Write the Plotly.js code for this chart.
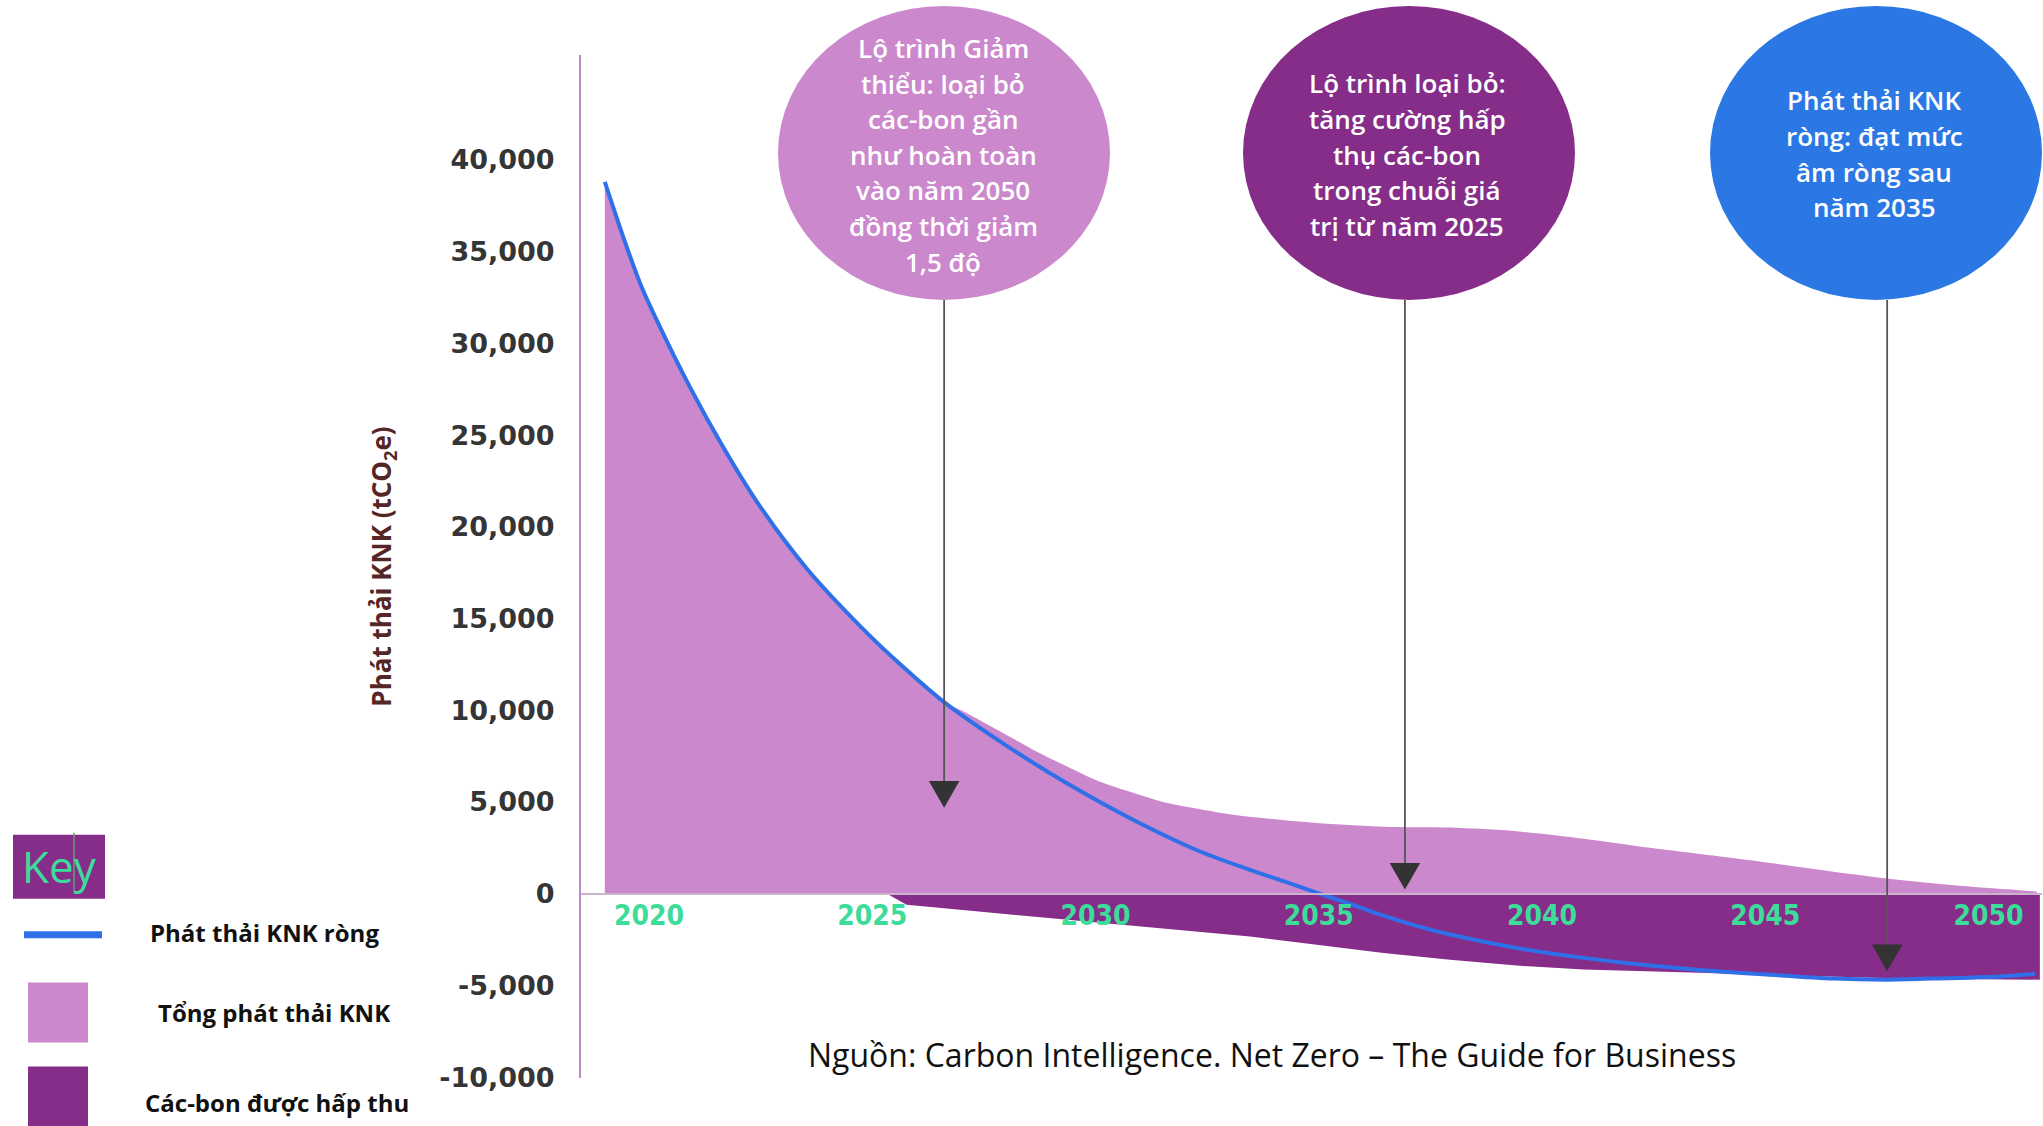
<!DOCTYPE html>
<html>
<head>
<meta charset="utf-8">
<script src="https://cdn.plot.ly/plotly-3.0.1.min.js"></script>
<style>
html,body{margin:0;padding:0;background:#ffffff;}
#chart{width:2043px;height:1126px;}
</style>
</head>
<body>
<div id="chart"></div>
<script>
// ---------- data ----------
const netYears = [2019.01, 2019.42, 2019.80, 2020.17, 2020.92, 2021.66, 2022.41, 2023.56, 2024.88, 2025.62, 2026.61, 2027.86, 2029.35, 2030.84, 2032.34, 2033.46, 2034.21, 2034.95, 2035.70, 2036.45, 2037.19, 2037.94, 2039.43, 2040.93, 2042.42, 2043.91, 2045.03, 2046.52, 2047.72, 2048.76, 2050.26, 2051.04];
const netValues = [38800, 35820, 33280, 31280, 27600, 24350, 21390, 17650, 14220, 12520, 10440, 8300, 6030, 4030, 2300, 1300, 680, 60, -560, -1200, -1760, -2230, -2960, -3500, -3920, -4230, -4410, -4630, -4690, -4630, -4510, -4380];

const totalYears = [2019.01, 2019.42, 2019.80, 2020.17, 2020.92, 2021.66, 2022.41, 2023.56, 2024.88, 2025.62, 2026.61, 2027.11, 2027.86, 2028.60, 2029.35, 2030.10, 2030.84, 2031.59, 2032.34, 2033.08, 2033.83, 2034.95, 2036.45, 2037.94, 2039.43, 2040.93, 2042.42, 2043.91, 2045.03, 2046.52, 2048.02, 2049.51, 2051.08];
const totalValues = [38800, 35820, 33280, 31280, 27600, 24350, 21390, 17650, 14220, 12520, 10460, 9850, 8850, 7850, 6950, 6100, 5500, 4950, 4600, 4300, 4100, 3850, 3650, 3600, 3400, 3000, 2500, 2050, 1700, 1200, 750, 400, 120];

const absorbedYears = [2025.33, 2025.77, 2027.50, 2029.35, 2031.40, 2033.46, 2035.00, 2036.45, 2037.94, 2039.43, 2040.93, 2042.42, 2043.91, 2045.78, 2048.02, 2051.15];
const absorbedValues = [0, -600, -1000, -1420, -1870, -2330, -2800, -3230, -3600, -3920, -4140, -4230, -4320, -4470, -4630, -4690];

const yTickVals = [-10000, -5000, 0, 5000, 10000, 15000, 20000, 25000, 30000, 35000, 40000];
const yTickText = ["-10,000", "-5,000", "0", "5,000", "10,000", "15,000", "20,000", "25,000", "30,000", "35,000", "40,000"];
const xTickVals = [2020, 2025, 2030, 2035, 2040, 2045, 2050];
const xTickText = ["2020", "2025", "2030", "2035", "2040", "2045", "2050"];

const arrowYears = [2026.61, 2036.93, 2047.73];
const arrowTips = [4690, 220, -4230];

const bubbleTexts = [
  ["Lộ trình Giảm", "thiểu: loại bỏ", "các-bon gần", "như hoàn toàn", "vào năm 2050", "đồng thời giảm", "1,5 độ"],
  ["Lộ trình loại bỏ:", "tăng cường hấp", "thụ các-bon", "trong chuỗi giá", "trị từ năm 2025"],
  ["Phát thải KNK", "ròng: đạt mức", "âm ròng sau", "năm 2035"]
];
const legendLabels = ["Phát thải KNK ròng", "Tổng phát thải KNK", "Các-bon được hấp thu"];
const yTitle = "Phát thải KNK (tCO<sub>2</sub>e)";
const sourceText = "Nguồn: Carbon Intelligence. Net Zero – The Guide for Business";
const keyText = "Key";

// ---------- colours ----------
const PINK = "#cc88cc", PURPLE = "#862d8a", BLUE = "#2f6fe8", BUBBLE_BLUE = "#2b78e4", GREEN = "#3ddc9a";

// ---------- geometry (pixels of the page) ----------
const W = 2043, H = 1126;
const yRange = [-10050, 45722];
const xRange = [2018.477, 2051.198];
const L = 581, R = 2042, T = 55;
const K = (894 - T) / yRange[1];          // px per unit
const B = 894 - yRange[0] * K;            // bottom of plot area
const XK = (R - L) / (xRange[1] - xRange[0]); // px per year
const px = X => (X - L) / (R - L);
const py = Y => (B - Y) / (B - T);
const valAt = Y => (894 - Y) / K;

const traces = [
  {x: totalYears, y: totalValues, type: "scatter", mode: "lines", fill: "tozeroy",
   fillcolor: PINK, line: {width: 0, color: PINK, shape: "spline", smoothing: 0.8},
   hoverinfo: "skip", name: legendLabels[1], showlegend: false},
  {x: absorbedYears, y: absorbedValues, type: "scatter", mode: "lines", fill: "tozeroy",
   fillcolor: PURPLE, line: {width: 0, color: PURPLE},
   hoverinfo: "skip", name: legendLabels[2], showlegend: false},
  {x: netYears, y: netValues, type: "scatter", mode: "lines",
   line: {width: 4, color: BLUE, shape: "spline", smoothing: 0.8},
   hoverinfo: "skip", name: legendLabels[0], showlegend: false}
];

const shapes = [];
const annotations = [];

// bubbles
const bubbles = [
  {cx: 944, cy: 153, color: PINK, tx: 943, ty0: 48},
  {cx: 1409, cy: 153, color: PURPLE, tx: 1407, ty0: 83.5},
  {cx: 1876, cy: 153, color: BUBBLE_BLUE, tx: 1874, ty0: 100.5}
];
const RX = 166, RY = 147, LINE_GAP = 35.6;
bubbles.forEach((b, i) => {
  shapes.push({type: "circle", xref: "paper", yref: "paper",
    x0: px(b.cx - RX), x1: px(b.cx + RX), y0: py(b.cy + RY), y1: py(b.cy - RY),
    fillcolor: b.color, line: {width: 0}, layer: "above"});
  bubbleTexts[i].forEach((t, k) => {
    annotations.push({xref: "paper", yref: "paper", x: px(b.tx), y: py(b.ty0 + k * LINE_GAP),
      xanchor: "center", yanchor: "middle", showarrow: false, text: t,
      font: {family: "Open Sans", size: 26, color: "#ffffff", weight: 600}});
  });
});

// arrows from bubbles (line + triangular head)
const arrowTailValue = valAt(300);
const headLen = 26.7 / K, headHalf = 15.3 / XK;
arrowYears.forEach((yr, i) => {
  const tip = arrowTips[i], base = tip + headLen;
  shapes.push({type: "line", xref: "x", yref: "y", x0: yr, x1: yr, y0: arrowTailValue, y1: base,
    line: {color: "#555555", width: 1.8}, layer: "above"});
  shapes.push({type: "path", xref: "x", yref: "y",
    path: `M ${yr - headHalf},${base} L ${yr + headHalf},${base} L ${yr},${tip} Z`,
    fillcolor: "#333333", line: {width: 0}, layer: "above"});
});

// source
annotations.push({xref: "paper", yref: "paper", x: px(1272), y: py(1055), xanchor: "center", yanchor: "middle",
  showarrow: false, text: sourceText, font: {family: "Open Sans", size: 32, color: "#111111"}});

// key box
shapes.push({type: "rect", xref: "paper", yref: "paper", x0: px(13), x1: px(105), y0: py(899), y1: py(835),
  fillcolor: PURPLE, line: {width: 0}});
annotations.push({xref: "paper", yref: "paper", x: px(59), y: py(866), xanchor: "center", yanchor: "middle",
  showarrow: false, text: keyText, font: {family: "Open Sans", size: 44, color: GREEN, weight: 500}});
shapes.push({type: "line", xref: "paper", yref: "paper", x0: px(74), x1: px(74), y0: py(892), y1: py(833),
  line: {color: "#6c9a7c", width: 1.5}});

// legend samples
shapes.push({type: "line", xref: "paper", yref: "paper", x0: px(24), x1: px(102), y0: py(935), y1: py(935),
  line: {color: BLUE, width: 7}});
shapes.push({type: "rect", xref: "paper", yref: "paper", x0: px(28), x1: px(88), y0: py(1043), y1: py(983),
  fillcolor: PINK, line: {width: 0}});
shapes.push({type: "rect", xref: "paper", yref: "paper", x0: px(28), x1: px(88), y0: py(1130), y1: py(1067),
  fillcolor: PURPLE, line: {width: 0}});
const legendPos = [[148, 933], [156, 1013], [143, 1103]];
legendLabels.forEach((t, i) => {
  annotations.push({xref: "paper", yref: "paper", x: px(legendPos[i][0]), y: py(legendPos[i][1]),
    xanchor: "left", yanchor: "middle", showarrow: false, text: t,
    font: {family: "Open Sans", size: 24, color: "#111111", weight: 700}});
});

const layout = {
  width: W, height: H,
  margin: {l: L, r: W - R, t: T, b: H - B, pad: 0},
  paper_bgcolor: "#ffffff", plot_bgcolor: "#ffffff",
  showlegend: false,
  xaxis: {
    range: xRange, anchor: "free", position: (0 - yRange[0]) / (yRange[1] - yRange[0]),
    showgrid: false, zeroline: false, showline: true, linecolor: "#cbb5cd", linewidth: 2,
    tickvals: xTickVals, ticktext: xTickText, ticks: "", ticklabelstandoff: -3,
    tickfont: {family: "DejaVu Sans Condensed, DejaVu Sans", size: 28, color: GREEN, weight: 700},
    fixedrange: true
  },
  yaxis: {
    range: yRange, showgrid: false, zeroline: false, showline: true, linecolor: "#b98cc4", linewidth: 2,
    tickvals: yTickVals, ticktext: yTickText, ticks: "", ticklabelstandoff: 19,
    tickfont: {family: "DejaVu Sans", size: 27, color: "#353535", weight: 700},
    title: {text: yTitle, standoff: 40, font: {family: "Open Sans", size: 26, color: "#542626", weight: 700}},
    fixedrange: true
  },
  shapes: shapes,
  annotations: annotations
};

Plotly.newPlot("chart", traces, layout, {displayModeBar: false, staticPlot: true});
</script>
</body>
</html>
